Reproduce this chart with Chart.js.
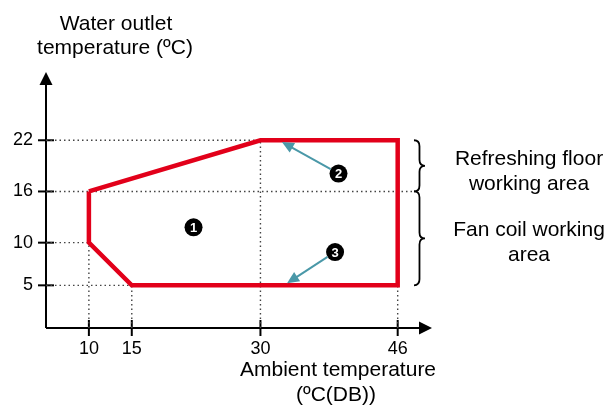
<!DOCTYPE html>
<html>
<head>
<meta charset="utf-8">
<script src="https://cdn.jsdelivr.net/npm/chart.js@4/dist/chart.umd.min.js"></script>
<style>
  html, body { margin: 0; padding: 0; background: #fff; }
  canvas { display: block; }
</style>
</head>
<body>
<canvas id="envelopeChart" width="609" height="410"></canvas>
<script>
const xTicks = [10, 15, 30, 46];
const yTicks = [5, 10, 16, 22];

// operating envelope (closed polygon)
const envelopeX = [10, 30, 46, 46, 15, 10, 10];
const envelopeY = [16, 22, 22, 5, 5, 10, 16];

// dotted guide lines: horizontal [y, x end], vertical [x, y end]
const guideH = [[22, 30], [16, 47.7], [10, 10], [5, 15]];
const guideV = [[10, 10], [15, 5], [30, 22], [46, 5]];

// numbered markers
const markerLabels = ["1", "2", "3"];
const markerX = [22.2, 39.1, 38.7];
const markerY = [11.8, 18.1, 8.9];

// arrows from marker 2 and 3
const arrowFrom = [1, 2];
const arrowTipX = [32.5, 33.1];
const arrowTipY = [21.8, 5.25];

// braces on the right
const braceX = 47.9;
const zoneBounds = [[16, 22], [5, 16]];
const zoneLabels = [["Refreshing floor", "working area"], ["Fan coil working", "area"]];

const FONT = "'Liberation Sans', Arial, sans-serif";

const guideDatasets = [];
guideH.forEach(([y, xe]) => {
  guideDatasets.push({ data: [{ x: 5, y: y }, { x: xe, y: y }] });
});
guideV.forEach(([x, ye]) => {
  guideDatasets.push({ data: [{ x: x, y: 0 }, { x: x, y: ye }] });
});

function arrowHead(ctx, x1, y1, x2, y2, len, half) {
  const a = Math.atan2(y2 - y1, x2 - x1);
  ctx.beginPath();
  ctx.moveTo(x2, y2);
  ctx.lineTo(x2 - len * Math.cos(a) + half * Math.sin(a), y2 - len * Math.sin(a) - half * Math.cos(a));
  ctx.lineTo(x2 - len * Math.cos(a) - half * Math.sin(a), y2 - len * Math.sin(a) + half * Math.cos(a));
  ctx.closePath();
  ctx.fill();
}

function brace(ctx, x, y0, y1, w) {
  const m = (y0 + y1) / 2;
  const r = 6;
  const xv = x + w / 2;
  ctx.beginPath();
  ctx.moveTo(x, y0);
  ctx.quadraticCurveTo(xv, y0, xv, y0 + r);
  ctx.lineTo(xv, m - r);
  ctx.quadraticCurveTo(xv, m, x + w, m);
  ctx.quadraticCurveTo(xv, m, xv, m + r);
  ctx.lineTo(xv, y1 - r);
  ctx.quadraticCurveTo(xv, y1, x, y1);
  ctx.stroke();
}

const decorations = {
  id: "decorations",
  beforeDatasetsDraw(chart) {
    const { ctx, chartArea, scales } = chart;
    const xs = scales.x, ys = scales.y;
    const ax = chartArea.left, ay = chartArea.bottom;
    ctx.save();
    ctx.strokeStyle = "#000";
    ctx.fillStyle = "#000";
    ctx.lineWidth = 2;
    // axes
    ctx.beginPath();
    ctx.moveTo(ax, ay);
    ctx.lineTo(ax, chartArea.top + 8);
    ctx.moveTo(ax, ay);
    ctx.lineTo(chartArea.right - 8, ay);
    ctx.stroke();
    arrowHead(ctx, ax, ay, ax, chartArea.top, 13, 6.5);
    arrowHead(ctx, ax, ay, chartArea.right, ay, 13, 6.5);
    // tick marks crossing axes
    xTicks.forEach(v => {
      const p = xs.getPixelForValue(v);
      ctx.beginPath();
      ctx.moveTo(p, ay - 8);
      ctx.lineTo(p, ay + 8);
      ctx.stroke();
    });
    yTicks.forEach(v => {
      const p = ys.getPixelForValue(v);
      ctx.beginPath();
      ctx.moveTo(ax - 8, p);
      ctx.lineTo(ax + 8, p);
      ctx.stroke();
    });
    // braces
    ctx.lineWidth = 1.8;
    zoneBounds.forEach(([lo, hi]) => {
      brace(ctx, xs.getPixelForValue(braceX), ys.getPixelForValue(hi), ys.getPixelForValue(lo), 11);
    });
    ctx.restore();
  },
  afterDatasetsDraw(chart) {
    const { ctx, scales } = chart;
    const xs = scales.x, ys = scales.y;
    ctx.save();
    // arrows
    ctx.strokeStyle = "#4a98a8";
    ctx.fillStyle = "#4a98a8";
    ctx.lineWidth = 2;
    arrowFrom.forEach((mi, i) => {
      const cx = xs.getPixelForValue(markerX[mi]), cy = ys.getPixelForValue(markerY[mi]);
      const tx = xs.getPixelForValue(arrowTipX[i]), ty = ys.getPixelForValue(arrowTipY[i]);
      const a = Math.atan2(ty - cy, tx - cx);
      const sx = cx + 9 * Math.cos(a), sy = cy + 9 * Math.sin(a);
      ctx.beginPath();
      ctx.moveTo(sx, sy);
      ctx.lineTo(tx - 9 * Math.cos(a), ty - 9 * Math.sin(a));
      ctx.stroke();
      arrowHead(ctx, sx, sy, tx, ty, 12, 5.5);
    });
    // marker numbers
    ctx.fillStyle = "#fff";
    ctx.font = "bold 13px " + FONT;
    ctx.textAlign = "center";
    ctx.textBaseline = "middle";
    markerLabels.forEach((t, i) => {
      ctx.fillText(t, xs.getPixelForValue(markerX[i]), ys.getPixelForValue(markerY[i]) + 1);
    });
    // texts
    ctx.fillStyle = "#000";
    ctx.font = "21px " + FONT;
    ctx.textBaseline = "alphabetic";
    ctx.fillText("Water outlet", 116, 30);
    ctx.fillText("temperature (ºC)", 115, 54);
    ctx.fillText("Ambient temperature", 338, 376);
    ctx.fillText("(ºC(DB))", 336, 401);
    ctx.fillText(zoneLabels[0][0], 529, 165);
    ctx.fillText(zoneLabels[0][1], 529, 190);
    ctx.fillText(zoneLabels[1][0], 529, 236);
    ctx.fillText(zoneLabels[1][1], 529, 261);
    ctx.restore();
  },
};

new Chart(document.getElementById("envelopeChart"), {
  type: "scatter",
  data: {
    datasets: [
      {
        data: markerX.map((x, i) => ({ x: x, y: markerY[i] })),
        pointRadius: 9,
        pointBackgroundColor: "#000",
        pointBorderWidth: 0,
        showLine: false,
        order: 0,
      },
      {
        data: envelopeX.map((x, i) => ({ x: x, y: envelopeY[i] })),
        showLine: true,
        borderColor: "#e2001a",
        borderWidth: 4.5,
        borderJoinStyle: "miter",
        pointRadius: 0,
        tension: 0,
        fill: false,
        order: 1,
      },
      ...guideDatasets.map(d => ({
        data: d.data,
        showLine: true,
        borderColor: "#444",
        borderWidth: 1.4,
        borderDash: [1.5, 3],
        pointRadius: 0,
        fill: false,
        order: 5,
      })),
    ],
  },
  options: {
    responsive: false,
    animation: false,
    devicePixelRatio: 1,
    layout: {
      padding: { left: 0, top: 72, right: 177, bottom: 0 },
    },
    plugins: {
      legend: { display: false },
      tooltip: { enabled: false },
    },
    scales: {
      x: {
        type: "linear",
        min: 5,
        max: 50,
        afterBuildTicks: s => { s.ticks = xTicks.map(v => ({ value: v })); },
        afterFit: s => { s.height = 82; },
        grid: { display: false, drawTicks: false },
        border: { display: false },
        ticks: {
          color: "#000",
          font: { family: FONT, size: 18 },
          padding: 10,
          maxRotation: 0,
          autoSkip: false,
        },
      },
      y: {
        type: "linear",
        min: 0,
        max: 30,
        afterBuildTicks: s => { s.ticks = yTicks.map(v => ({ value: v })); },
        afterFit: s => { s.width = 46; },
        grid: { display: false, drawTicks: false },
        border: { display: false },
        ticks: {
          color: "#000",
          font: { family: FONT, size: 18 },
          padding: 13,
          autoSkip: false,
        },
      },
    },
  },
  plugins: [decorations],
});
</script>
</body>
</html>
